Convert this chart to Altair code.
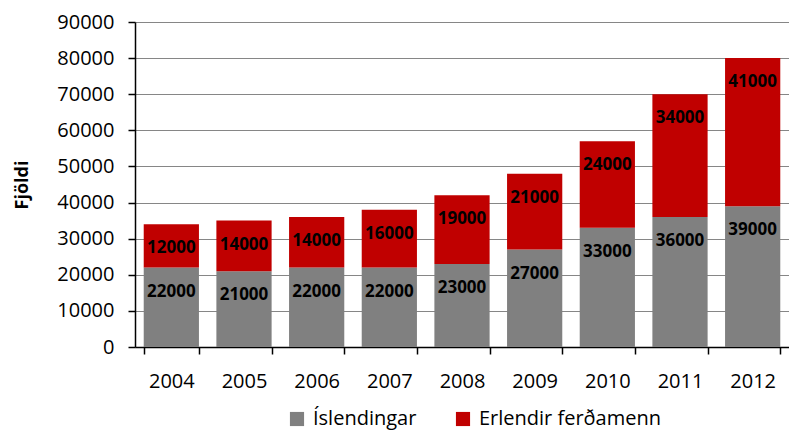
import altair as alt
import pandas as pd

years = ["2004", "2005", "2006", "2007", "2008", "2009", "2010", "2011", "2012"]
islendingar = [22000, 21000, 22000, 22000, 23000, 27000, 33000, 36000, 39000]
erlendir = [12000, 14000, 14000, 16000, 19000, 21000, 24000, 34000, 41000]
series = ["Íslendingar", "Erlendir ferðamenn"]
colors = ["#808080", "#C00000"]
y_ticks = [0, 10000, 20000, 30000, 40000, 50000, 60000, 70000, 80000, 90000]

rows = []
for i, y in enumerate(years):
    rows.append({"year": y, "series": series[0], "ord": 0, "value": islendingar[i]})
    rows.append({"year": y, "series": series[1], "ord": 1, "value": erlendir[i]})
df = pd.DataFrame(rows)

FONT = "Open Sans"

x_axis = alt.Axis(labelAngle=0, tickBand="extent", labelFontSize=20,
                  labelFont=FONT, labelColor="#000000", tickSize=7,
                  tickColor="#000000", domainColor="#000000",
                  domainWidth=1.5, tickWidth=1.5, labelPadding=17)
x_scale = alt.Scale(paddingInner=0.24, paddingOuter=0.12)

y_axis = alt.Axis(values=y_ticks, format="d", labelFontSize=20,
                  labelFont=FONT,
                  labelColor="#000000", tickSize=7, tickColor="#000000",
                  tickWidth=1.5, domainColor="#000000", domainWidth=1.5,
                  gridColor="#868686", gridWidth=1.2, labelPadding=14,
                  labelOverlap=False, labelFlush=False,
                  titleFont=FONT, titleFontSize=18, titleFontWeight="bold",
                  titleColor="#000000", titlePadding=25)
y_scale = alt.Scale(domain=[0, 90000], nice=False)

base = alt.Chart(df).encode(
    x=alt.X("year:N", sort=years, title=None, scale=x_scale, axis=x_axis),
    y=alt.Y("value:Q", stack="zero", title="Fjöldi", scale=y_scale, axis=y_axis),
    order=alt.Order("ord:Q", sort="ascending"),
)

bars = base.mark_bar().encode(
    color=alt.Color("series:N", scale=alt.Scale(domain=series, range=colors),
                    sort=series,
                    legend=alt.Legend(title=None, orient="none", direction="horizontal",
                                      legendX=152, legendY=387, symbolType="square",
                                      symbolSize=200, symbolStrokeWidth=0,
                                      labelFont=FONT, labelFontSize=20, labelLimit=400,
                                      labelColor="#000000", columnPadding=36,
                                      labelOffset=6)),
)

labels = base.mark_text(font=FONT, fontSize=17, fontWeight="bold", color="#000000",
                        baseline="middle", dy=24).encode(
    text=alt.Text("value:Q", format="d"),
)

chart = alt.layer(bars, labels).properties(
    width=654, height=325,
    autosize=alt.AutoSizeParams(type="none"),
    padding={"left": 127, "top": 14, "right": 0, "bottom": 84},
).configure_view(stroke=None)

chart.save("out.html", embed_options={"renderer": "svg", "actions": False})
